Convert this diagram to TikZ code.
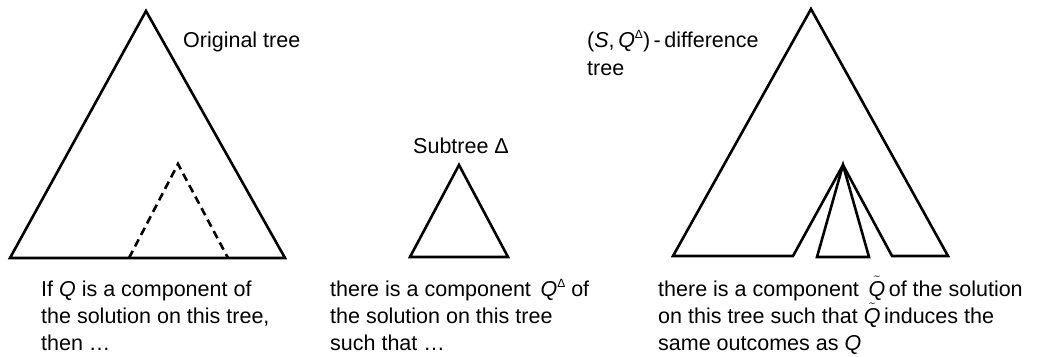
\documentclass[tikz,border=0pt]{standalone}
\usepackage{fontspec}
\setmainfont{Liberation Sans}
\newcommand{\tQ}{\smash{$\tilde{\textit{Q}}$}}
\newcommand{\supD}{\raisebox{0.38em}{\fontsize{12}{12}\selectfont Δ}}
\begin{document}
\begin{tikzpicture}[x=1pt,y=-1pt,
  tri/.style={line width=2.6pt,line join=miter},
  dtri/.style={line width=2.6pt,dash pattern=on 8pt off 5pt},
  lbl/.style={anchor=base west,inner sep=0pt,font=\fontsize{21.5}{27}\selectfont}]
\useasboundingbox (0,0) rectangle (1049,356);
% left tree
\coordinate (a1) at (146,11);
\coordinate (a2) at (10,258);
\coordinate (a3) at (285,258);
\draw[tri] (a1) -- (a2) -- (a3) -- cycle;
\coordinate (d1) at (178,164);
\coordinate (d2) at (129,258);
\coordinate (d3) at (228,258);
\draw[dtri] (d2) -- (d1) -- (d3);
\node[lbl] (orig) at (183,47) {Original tree};
\node[lbl] (t1a) at (41,296) {If \textit{Q} is a component of};
\node[lbl] (t1b) at (41,323) {the solution on this tree,};
\node[lbl] (t1c) at (41,350) {then \dots};
% middle tree
\coordinate (b1) at (459,165);
\coordinate (b2) at (410,257);
\coordinate (b3) at (508,257);
\draw[tri] (b1) -- (b2) -- (b3) -- cycle;
\node[lbl] (sub) at (413,153) {Subtree Δ};
\node[lbl] (t2a) at (330,296) {there is a component \,\textit{Q}\supD\ of};
\node[lbl] (t2b) at (330,323) {the solution on this tree};
\node[lbl] (t2c) at (330,350) {such that \dots};
% right tree
\coordinate (c1) at (811,9);
\coordinate (c2) at (673,256);
\coordinate (c3) at (948,256);
\coordinate (c4) at (892,256);
\coordinate (c5) at (843,165);
\coordinate (c6) at (793,256);
\draw[tri] (c6) -- (c2) -- (c1) -- (c3) -- (c4) -- (c5) -- cycle;
\coordinate (e2) at (817,257);
\coordinate (e3) at (869,257);
\draw[tri] (c5) -- (e2) -- (e3) -- cycle;
\node[lbl] (diffa) at (587,47) {(\textit{S},\,\textit{Q}\supD)\,-\,difference};
\node[lbl] (diffb) at (587,75) {tree};
\node[lbl] (t3a) at (658,296) {there is a component \,\tQ\,of the solution};
\node[lbl] (t3b) at (658,323) {on this tree such that \tQ\,induces the};
\node[lbl] (t3c) at (658,350) {same outcomes as \textit{Q}};
\end{tikzpicture}
\end{document}
